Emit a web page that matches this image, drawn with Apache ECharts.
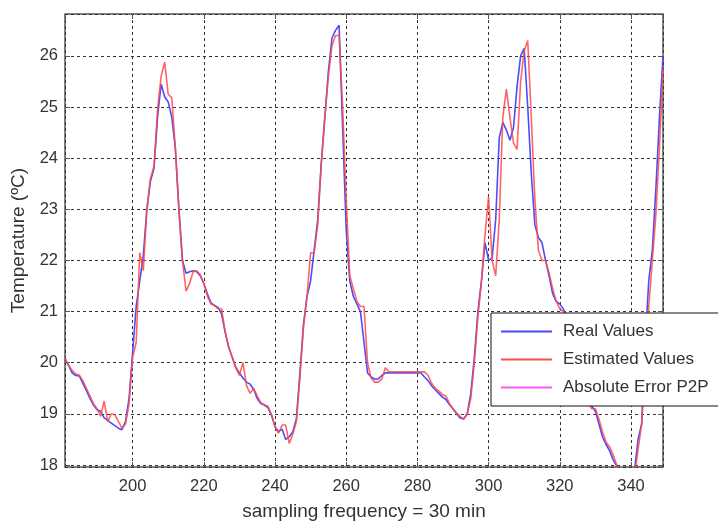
<!DOCTYPE html>
<html lang="en">
<head>
    <meta charset="UTF-8">
    <title>Temperature</title>
    <script src="https://cdn.jsdelivr.net/npm/echarts@6/dist/echarts.min.js"></script>
    <style>
        html, body { margin: 0; padding: 0; background: #fff; }
        #main { width: 718px; height: 526px; }
    </style>
</head>
<body>
<div id="main"></div>
<script type="text/javascript">
    // sample index of the first value (one sample = 30 min)
    var firstSample = 181;

    // real temperature, samples 181..349
    var realValues = [
        20.05, 19.95, 19.80, 19.75, 19.74, 19.60, 19.46, 19.30, 19.17, 19.08,   // 181-190
        19.05, 18.92, 18.87, 18.82, 18.77, 18.72, 18.69, 18.85, 19.30, 20.20,   // 191-200
        21.10, 21.60, 22.10, 23.00, 23.55, 23.80, 24.80, 25.45, 25.20, 25.10,   // 201-210
        24.80, 24.20, 23.00, 22.00, 21.75, 21.78, 21.80, 21.78, 21.70, 21.55,   // 211-220
        21.35, 21.17, 21.12, 21.08, 20.95, 20.60, 20.30, 20.10, 19.90, 19.80,   // 221-230
        19.70, 19.62, 19.58, 19.48, 19.30, 19.20, 19.17, 19.12, 18.98, 18.75,   // 231-240
        18.65, 18.70, 18.50, 18.55, 18.65, 18.90, 19.80, 20.75, 21.30, 21.60,   // 241-250
        22.20, 22.80, 23.90, 24.80, 25.70, 26.35, 26.50, 26.60, 24.60, 22.60,   // 251-260
        21.60, 21.30, 21.15, 21.00, 20.40, 19.80, 19.72, 19.68, 19.68, 19.75,   // 261-270
        19.80, 19.80, 19.80, 19.80, 19.80, 19.80, 19.80, 19.80, 19.80, 19.80,   // 271-280
        19.80, 19.72, 19.65, 19.55, 19.47, 19.40, 19.33, 19.28, 19.18, 19.10,   // 281-290
        19.00, 18.92, 18.90, 19.00, 19.40, 20.10, 21.00, 21.60, 22.35, 22.00,   // 291-300
        22.05, 22.80, 24.40, 24.70, 24.55, 24.35, 24.60, 25.40, 26.00, 26.15,   // 301-310
        25.00, 23.70, 22.70, 22.45, 22.35, 22.00, 21.70, 21.35, 21.20, 21.15,   // 311-320
        21.05, 20.90, 20.70, 20.50, 20.20, 19.90, 19.60, 19.30, 19.15, 19.05,   // 321-330
        18.80, 18.55, 18.40, 18.28, 18.10, 17.98, 17.80, 17.60, 17.50, 17.60,   // 331-340
        17.90, 18.50, 18.80, 20.40, 21.60, 22.20, 23.40, 24.80, 26.00           // 341-349
    ];

    // estimated temperature, samples 181..349
    var estimatedValues = [
        20.10, 19.95, 19.85, 19.78, 19.76, 19.65, 19.50, 19.35, 19.20, 19.10,   // 181-190
        18.95, 19.25, 18.85, 19.00, 18.98, 18.85, 18.72, 18.80, 19.20, 20.10,   // 191-200
        20.40, 22.15, 21.80, 23.00, 23.60, 23.85, 24.95, 25.60, 25.88, 25.25,   // 201-210
        25.18, 24.20, 23.00, 22.00, 21.40, 21.55, 21.78, 21.80, 21.72, 21.55,   // 211-220
        21.30, 21.15, 21.12, 21.05, 21.05, 20.60, 20.30, 20.10, 19.90, 19.75,   // 221-230
        20.00, 19.55, 19.40, 19.50, 19.35, 19.22, 19.18, 19.15, 18.98, 18.75,   // 231-240
        18.62, 18.78, 18.78, 18.42, 18.60, 18.85, 19.70, 20.70, 21.30, 22.15,   // 241-250
        22.15, 22.70, 23.90, 24.80, 25.60, 26.20, 26.40, 26.40, 25.00, 23.20,   // 251-260
        21.70, 21.45, 21.20, 21.10, 21.10, 20.00, 19.70, 19.62, 19.62, 19.68,   // 261-270
        19.90, 19.82, 19.82, 19.82, 19.82, 19.82, 19.82, 19.82, 19.82, 19.82,   // 271-280
        19.82, 19.82, 19.75, 19.60, 19.50, 19.45, 19.38, 19.35, 19.20, 19.10,   // 281-290
        19.02, 18.95, 18.90, 19.00, 19.30, 20.00, 20.90, 21.60, 22.50, 23.25,   // 291-300
        22.00, 21.70, 22.80, 24.80, 25.35, 24.80, 24.30, 24.17, 25.50, 26.10,   // 301-310
        26.30, 24.80, 23.20, 22.20, 22.00, 22.00, 21.75, 21.45, 21.20, 21.05,   // 311-320
        21.00, 20.90, 20.75, 20.55, 20.25, 19.95, 19.65, 19.20, 19.10, 19.10,   // 321-330
        18.90, 18.65, 18.45, 18.35, 18.20, 18.00, 17.85, 17.60, 17.50, 17.55,   // 331-340
        17.80, 18.30, 18.80, 19.90, 21.10, 22.00, 22.90, 24.20, 25.75           // 341-349
    ];

    // absolute error is plotted far below this y range, nothing of it is visible
    var errorValues = [];

    var seriesNames = ['Real Values', 'Estimated Values', 'Absolute Error P2P'];

    function toPoints(values) {
        return values.map(function (v, i) { return [firstSample + i, v]; });
    }

    var myChart = echarts.init(document.getElementById('main'), null, {renderer: 'canvas'});

    var gridLine = {show: true, lineStyle: {color: '#333', width: 1, type: [3, 3]}};
    var font = 'Liberation Sans, Arial, sans-serif';

    var option = {
        backgroundColor: '#fff',
        animation: false,
        grid: {
            left: 65, right: 55, top: 14, bottom: 56,
            show: true, borderColor: '#555', borderWidth: 1.5, backgroundColor: '#fff'
        },
        legend: {
            data: seriesNames,
            orient: 'vertical',
            left: 491,
            top: 313,
            icon: 'rect',
            itemWidth: 51,
            itemHeight: 2,
            itemGap: 9,
            padding: [9, 40, 9, 10],
            backgroundColor: '#fff',
            borderColor: '#111',
            borderWidth: 1,
            textStyle: {fontFamily: font, fontSize: 17, color: '#333', lineHeight: 19, padding: [0, 0, 0, 6]}
        },
        xAxis: [{
            type: 'value',
            min: 181,
            max: 349,
            splitNumber: 8,
            name: 'sampling frequency = 30 min',
            nameLocation: 'middle',
            nameGap: 35,
            nameTextStyle: {fontFamily: font, fontSize: 19, color: '#333'},
            axisLine: {show: false},
            axisTick: {inside: true, length: 5, lineStyle: {color: '#555'}},
            axisLabel: {fontFamily: font, fontSize: 16.5, color: '#333', margin: 11, showMinLabel: false, showMaxLabel: false},
            splitLine: gridLine
        }, {
            type: 'value',
            position: 'top',
            min: 181,
            max: 349,
            splitNumber: 8,
            axisLine: {show: false},
            axisTick: {inside: true, length: 5, lineStyle: {color: '#555'}},
            axisLabel: {show: false},
            splitLine: {show: false}
        }],
        yAxis: [{
            type: 'value',
            min: 17.96,
            max: 26.82,
            splitNumber: 9,
            name: 'Temperature (ºC)',
            nameLocation: 'middle',
            nameGap: 33,
            nameTextStyle: {fontFamily: font, fontSize: 19, color: '#333'},
            axisLine: {show: false},
            axisTick: {inside: true, length: 5, lineStyle: {color: '#555'}},
            axisLabel: {fontFamily: font, fontSize: 16.5, color: '#333', margin: 7, showMinLabel: false, showMaxLabel: false},
            splitLine: gridLine
        }, {
            type: 'value',
            position: 'right',
            min: 17.96,
            max: 26.82,
            splitNumber: 9,
            axisLine: {show: false},
            axisTick: {inside: true, length: 5, lineStyle: {color: '#555'}},
            axisLabel: {show: false},
            splitLine: {show: false}
        }],
        series: [
            {
                name: seriesNames[0],
                type: 'line',
                data: toPoints(realValues),
                showSymbol: false,
                clip: true,
                lineStyle: {color: '#4b4bff', width: 1.6},
                itemStyle: {color: '#4b4bff'}
            },
            {
                name: seriesNames[1],
                type: 'line',
                data: toPoints(estimatedValues),
                showSymbol: false,
                clip: true,
                lineStyle: {color: '#ff4a4a', width: 1.6, opacity: 0.85},
                itemStyle: {color: '#ff4a4a'}
            },
            {
                name: seriesNames[2],
                type: 'line',
                data: errorValues,
                showSymbol: false,
                lineStyle: {color: '#ff55ff', width: 1.6},
                itemStyle: {color: '#ff55ff'}
            }
        ]
    };

    myChart.setOption(option);
</script>
</body>
</html>
